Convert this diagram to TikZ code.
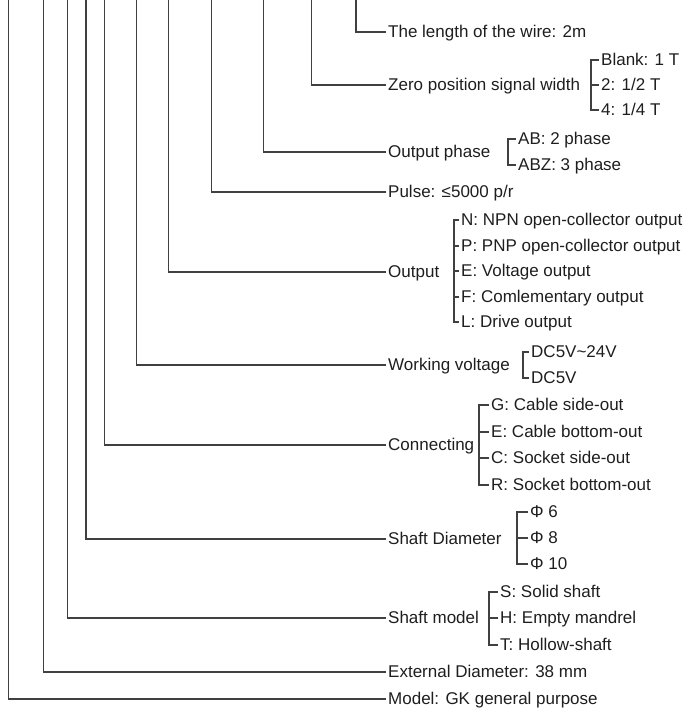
\documentclass[tikz,border=0pt]{standalone}
\usepackage{fontspec}
\setmainfont{Liberation Sans}
\definecolor{linec}{HTML}{404040}
\definecolor{textc}{HTML}{1E1E1E}
\begin{document}
\begin{tikzpicture}[x=1pt,y=-1pt,
  lbl/.style={anchor=west,inner xsep=2pt,inner ysep=0pt,text height=11.5pt,text depth=0.5pt,
    font=\fontsize{17}{20}\selectfont,text=textc},
  wire/.style={draw=linec,line width=1.1pt}]
\useasboundingbox (0,0) rectangle (693,713);
% top coordinates of the vertical lines
\coordinate (v1) at (8.5,0);
\coordinate (v2) at (43.3,0);
\coordinate (v3) at (67.3,0);
\coordinate (v4) at (86,0);
\coordinate (v5) at (104.7,0);
\coordinate (v6) at (136.7,0);
\coordinate (v7) at (168.7,0);
\coordinate (v8) at (211.3,0);
\coordinate (v9) at (263.3,0);
\coordinate (v10) at (311.3,0);
\coordinate (v11) at (356,0);
% main labels
\node[lbl] (wirelen) at (386,32) {The length of the wire: 2m};
\node[lbl] (zero) at (386,85) {Zero position signal width};
\node[lbl] (phase) at (386,152) {Output phase};
\node[lbl] (pulse) at (386,192) {Pulse: ≤5000 p/r};
\node[lbl] (output) at (386,272) {Output};
\node[lbl] (volt) at (386,365) {Working voltage};
\node[lbl] (conn) at (386,445) {Connecting};
\node[lbl] (sdia) at (386,539) {Shaft Diameter};
\node[lbl] (smod) at (386,618) {Shaft model};
\node[lbl] (ext) at (386,672) {External Diameter: 38 mm};
\node[lbl] (model) at (386,699) {Model: GK general purpose};
% connectors
\draw[wire] (v11) |- (wirelen.west);
\draw[wire] (v10) |- (zero.west);
\draw[wire] (v9) |- (phase.west);
\draw[wire] (v8) |- (pulse.west);
\draw[wire] (v7) |- (output.west);
\draw[wire] (v6) |- (volt.west);
\draw[wire] (v5) |- (conn.west);
\draw[wire] (v4) |- (sdia.west);
\draw[wire] (v3) |- (smod.west);
\draw[wire] (v2) |- (ext.west);
\draw[wire] (v1) |- (model.west);
% zero position options
\coordinate (bz) at (591,0);
\node[lbl] (z1) at (599,60) {Blank: 1 T};
\node[lbl] (z2) at (599,85) {2: 1/2 T};
\node[lbl] (z3) at (599,110) {4: 1/4 T};
\draw[wire] (z1.west) -- (z1.west -| bz) -- (z3.west -| bz) -- (z3.west);
\draw[wire] (z2.west) -- (z2.west -| bz);
% output phase options
\coordinate (bp) at (508,0);
\node[lbl] (p1) at (516,139) {AB: 2 phase};
\node[lbl] (p2) at (516,165) {ABZ: 3 phase};
\draw[wire] (p1.west) -- (p1.west -| bp) -- (p2.west -| bp) -- (p2.west);
% output options
\coordinate (bo) at (454,0);
\node[lbl] (o1) at (459,220) {N: NPN open-collector output};
\node[lbl] (o2) at (459,246) {P: PNP open-collector output};
\node[lbl] (o3) at (459,271) {E: Voltage output};
\node[lbl] (o4) at (459,297) {F: Comlementary output};
\node[lbl] (o5) at (459,322) {L: Drive output};
\draw[wire] (o1.west) -- (o1.west -| bo) -- (o5.west -| bo) -- (o5.west);
\draw[wire] (o2.west) -- (o2.west -| bo);
\draw[wire] (o3.west) -- (o3.west -| bo);
\draw[wire] (o4.west) -- (o4.west -| bo);
% working voltage options
\coordinate (bv) at (523,0);
\node[lbl] (w1) at (529,352) {DC5V\textasciitilde24V};
\node[lbl] (w2) at (529,378) {DC5V};
\draw[wire] (w1.west) -- (w1.west -| bv) -- (w2.west -| bv) -- (w2.west);
% connecting options
\coordinate (bc) at (479,0);
\node[lbl] (c1) at (489,405) {G: Cable side-out};
\node[lbl] (c2) at (489,432) {E: Cable bottom-out};
\node[lbl] (c3) at (489,458) {C: Socket side-out};
\node[lbl] (c4) at (489,485) {R: Socket bottom-out};
\draw[wire] (c1.west) -- (c1.west -| bc) -- (c4.west -| bc) -- (c4.west);
\draw[wire] (c2.west) -- (c2.west -| bc);
\draw[wire] (c3.west) -- (c3.west -| bc);
% shaft diameter options
\coordinate (bd) at (517,0);
\node[lbl] (d1) at (528,512) {Φ 6};
\node[lbl] (d2) at (528,538) {Φ 8};
\node[lbl] (d3) at (528,564) {Φ 10};
\draw[wire] (d1.west) -- (d1.west -| bd) -- (d3.west -| bd) -- (d3.west);
\draw[wire] (d2.west) -- (d2.west -| bd);
% shaft model options
\coordinate (bm) at (489,0);
\node[lbl] (m1) at (498,592) {S: Solid shaft};
\node[lbl] (m2) at (498,618) {H: Empty mandrel};
\node[lbl] (m3) at (498,645) {T: Hollow-shaft};
\draw[wire] (m1.west) -- (m1.west -| bm) -- (m3.west -| bm) -- (m3.west);
\draw[wire] (m2.west) -- (m2.west -| bm);
\end{tikzpicture}
\end{document}
